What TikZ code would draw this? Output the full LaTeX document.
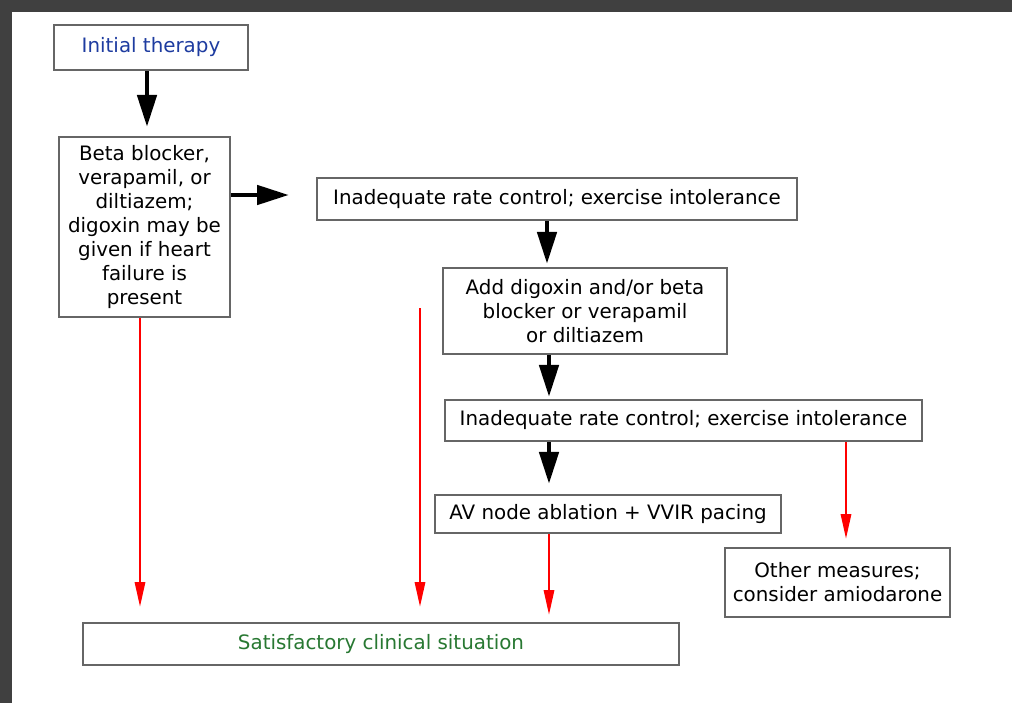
\documentclass[tikz,border=0pt]{standalone}
\usepackage{fontspec}
\setmainfont{DejaVu Sans}
\usepackage{tikz}
\usetikzlibrary{arrows.meta}
\definecolor{framegray}{RGB}{64,64,64}
\definecolor{initblue}{RGB}{30,60,160}
\definecolor{satgreen}{RGB}{40,120,50}

\begin{document}
\begin{tikzpicture}[x=0.02cm,y=-0.02cm,
  box/.style={draw=black!60,line width=1.6pt,fill=white,align=center,inner sep=2pt,
    font=\fontsize{11.3}{13.6}\selectfont},
  blkarr/.style={line width=2.1pt,-{Triangle[length=18pt,width=11pt]}},
  redarr/.style={red,line width=0.85pt,-{Triangle[length=14pt,width=6pt]}}]
  \useasboundingbox (0,0) rectangle (1012,703);
  \fill[framegray] (0,0) rectangle (1012,12);
  \fill[framegray] (0,0) rectangle (12,703);
   \coordinate (gap) at (420,308);
  % boxes of the flow chart
  \node[box,minimum width=3.88cm,minimum height=0.9cm,text=initblue] (init) at (151,47.5) {Initial therapy};
  \node[box,minimum width=3.42cm,minimum height=3.6cm] (beta) at (144.5,227)
    {Beta blocker,\\verapamil, or\\diltiazem;\\digoxin may be\\given if heart\\failure is\\present};
  \node[box,minimum width=9.6cm,minimum height=0.84cm] (inadA) at (557,199) {Inadequate rate control; exercise intolerance};
  \node[box,minimum width=5.68cm,minimum height=1.72cm] (addD) at (585,311) {Add digoxin and/or beta\\blocker or verapamil\\or diltiazem};
  \node[box,minimum width=9.54cm,minimum height=0.82cm] (inadB) at (683.5,420.5) {Inadequate rate control; exercise intolerance};
  \node[box,minimum width=6.92cm,minimum height=0.76cm] (avnode) at (608,514) {AV node ablation + VVIR pacing};
  \node[box,minimum width=4.5cm,minimum height=1.38cm] (other) at (837.5,582.5) {Other measures;\\consider amiodarone};
  \node[box,minimum width=11.92cm,minimum height=0.84cm,text=satgreen] (sat) at (381,644) {Satisfactory clinical situation};
  % black arrows
 \draw[blkarr,shorten >=0.18cm] (147,0 |- init.south) -- (147,0 |- beta.north);
 \draw[blkarr,shorten >=0.54cm] (beta.east |- 0,195) -- (inadA.west |- 0,195);
 \draw[blkarr,shorten >=0.06cm] (547,0 |- inadA.south) -- (547,0 |- addD.north);
 \draw[blkarr,shorten >=0.04cm] (549,0 |- addD.south) -- (549,0 |- inadB.north);
 \draw[blkarr,shorten >=0.2cm] (549,0 |- inadB.south) -- (549,0 |- avnode.north);
  % red arrows
 \draw[redarr,shorten >=0.3cm] (140,0 |- beta.south) -- (140,0 |- sat.north);
 \draw[redarr,shorten >=0.3cm] (gap) -- (gap |- sat.north);
 \draw[redarr,shorten >=0.14cm] (549,0 |- avnode.south) -- (549,0 |- sat.north);
 \draw[redarr,shorten >=0.16cm] (846,0 |- inadB.south) -- (846,0 |- other.north);
\end{tikzpicture}
\end{document}
